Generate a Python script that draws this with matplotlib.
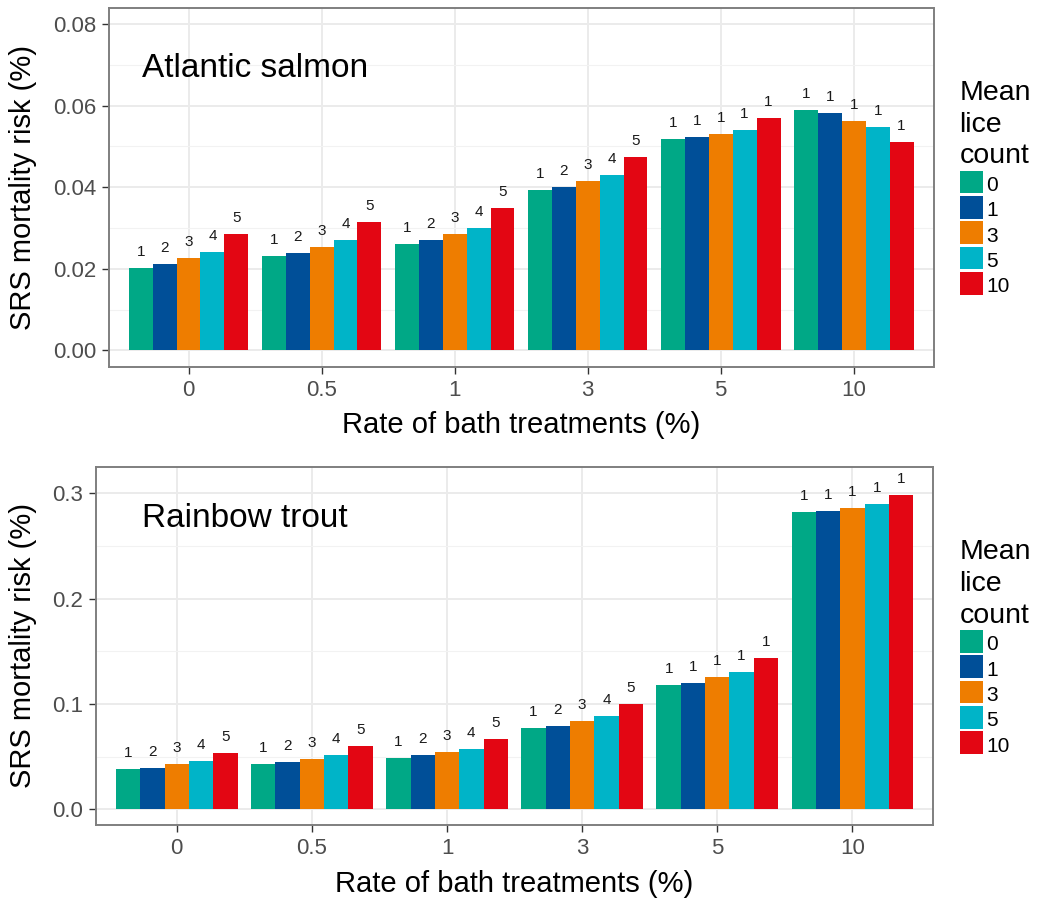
import matplotlib
matplotlib.use("Agg")
import matplotlib.pyplot as plt
from matplotlib.patches import Rectangle
from matplotlib.ticker import FormatStrFormatter, MultipleLocator
import numpy as np

plt.rcParams['font.family'] = ['Liberation Sans', 'DejaVu Sans']

# Categories
treatment_rates = ['0', '0.5', '1', '3', '5', '10']
lice_counts = ['0', '1', '3', '5', '10']
bar_colors = ['#00A886', '#004F98', '#EE7D00', '#00B4C8', '#E30613']

# Atlantic salmon: SRS mortality risk (%) per mean lice count
salmon_lice0 = [0.0203, 0.0232, 0.0261, 0.0392, 0.0517, 0.0588]
salmon_lice1 = [0.0211, 0.0239, 0.0270, 0.0400, 0.0523, 0.0581]
salmon_lice3 = [0.0226, 0.0254, 0.0284, 0.0414, 0.0531, 0.0563]
salmon_lice5 = [0.0241, 0.0270, 0.0301, 0.0431, 0.0541, 0.0548]
salmon_lice10 = [0.0284, 0.0315, 0.0348, 0.0474, 0.0569, 0.0511]

# Rainbow trout: SRS mortality risk (%) per mean lice count
trout_lice0 = [0.0383, 0.0433, 0.0490, 0.0775, 0.1178, 0.2820]
trout_lice1 = [0.0395, 0.0452, 0.0513, 0.0794, 0.1203, 0.2833]
trout_lice3 = [0.0430, 0.0481, 0.0541, 0.0839, 0.1254, 0.2865]
trout_lice5 = [0.0459, 0.0513, 0.0576, 0.0883, 0.1304, 0.2900]
trout_lice10 = [0.0538, 0.0604, 0.0671, 0.1003, 0.1437, 0.2982]

# Rank labels printed above each bar
labels_lice0 = ['1', '1', '1', '1', '1', '1']
labels_lice1 = ['2', '2', '2', '2', '1', '1']
labels_lice3 = ['3', '3', '3', '3', '1', '1']
labels_lice5 = ['4', '4', '4', '4', '1', '1']
labels_lice10 = ['5', '5', '5', '5', '1', '1']

salmon_series = [salmon_lice0, salmon_lice1, salmon_lice3, salmon_lice5, salmon_lice10]
trout_series = [trout_lice0, trout_lice1, trout_lice3, trout_lice5, trout_lice10]
bar_labels = [labels_lice0, labels_lice1, labels_lice3, labels_lice5, labels_lice10]

W, H = 1042, 900
fig = plt.figure(figsize=(W / 100, H / 100), dpi=100)


def px_rect(left, top, right, bottom):
    return [left / W, 1 - bottom / H, (right - left) / W, (bottom - top) / H]


def draw_panel(ax, series, labels, ylim, major, fmt, title, title_pos):
    x = np.arange(len(treatment_rates))
    n = len(series)
    width = 0.9 / n
    for i, (vals, labs) in enumerate(zip(series, labels)):
        pos = x - 0.45 + width * (i + 0.5)
        ax.bar(pos, vals, width=width, color=bar_colors[i], linewidth=0,
               zorder=2, label=lice_counts[i])
        for xx, v, t in zip(pos, vals, labs):
            ax.annotate(t, (xx, v), xytext=(0, 12), textcoords='offset pixels',
                        ha='center', va='baseline', fontsize=11,
                        color='#1A1A1A', zorder=3)
    ax.set_xlim(-0.6, len(treatment_rates) - 0.4)
    ax.set_ylim(*ylim)
    ax.set_xticks(x)
    ax.set_xticklabels(treatment_rates)
    ax.yaxis.set_major_locator(MultipleLocator(major))
    ax.yaxis.set_minor_locator(MultipleLocator(major / 2))
    ax.yaxis.set_major_formatter(FormatStrFormatter(fmt))
    ax.grid(True, which='major', axis='both', color='#EBEBEB', lw=1.4, zorder=0)
    ax.grid(True, which='minor', axis='y', color='#F2F2F2', lw=0.8, zorder=0)
    ax.set_axisbelow(True)
    ax.tick_params(axis='both', which='major', length=5, width=1,
                   color='#333333', labelsize=16, labelcolor='#4D4D4D')
    ax.tick_params(axis='x', pad=4.5)
    ax.tick_params(axis='y', pad=4)
    ax.tick_params(axis='y', which='minor', length=0)
    for s in ax.spines.values():
        s.set_color('#7F7F7F')
        s.set_linewidth(1.4)
    ax.text(title_pos[0], title_pos[1], title, transform=ax.transAxes,
            fontsize=24, ha='left', va='baseline', color='black')


def draw_legend(y_shift):
    for line, base in zip(['Mean', 'lice', 'count'], [100, 131.7, 163.3]):
        fig.text(959.5 / W, 1 - (base + y_shift) / H, line, fontsize=20.5,
                 va='baseline', ha='left')
    for k, (lab, col) in enumerate(zip(lice_counts, bar_colors)):
        top = 170.7 + y_shift + k * 25.3
        r = Rectangle((959.5 / W, 1 - (top + 22.7) / H), 23 / W, 22.7 / H,
                      transform=fig.transFigure, facecolor=col, edgecolor='none')
        fig.add_artist(r)
        fig.text(986.5 / W, 1 - (top + 20.5) / H, lab, fontsize=15,
                 va='baseline', ha='left')


# Atlantic salmon panel
ax1 = fig.add_axes(px_rect(108.7, 8, 933.5, 366.7))
draw_panel(ax1, salmon_series, bar_labels, (-0.00402, 0.08392), 0.02, '%.2f',
           'Atlantic salmon', (0.04, 0.8085))
ax1.set_xlabel('Rate of bath treatments (%)', fontsize=21)
ax1.xaxis.set_label_coords(0.5, -0.1857)
ax1.xaxis.label.set_va('baseline')
ax1.set_ylabel('SRS mortality risk (%)', fontsize=21)
ax1.yaxis.set_label_coords(-(108.7 - 23) / 824.8, 0.5)
ax1.yaxis.label.set_va('center')
draw_legend(0)

# Rainbow trout panel
ax2 = fig.add_axes(px_rect(95.7, 466.7, 933.5, 825.3))
draw_panel(ax2, trout_series, bar_labels, (-0.01519, 0.32525), 0.1, '%.1f',
           'Rainbow trout', (0.0549, 0.831))
ax2.set_xlabel('Rate of bath treatments (%)', fontsize=21)
ax2.xaxis.set_label_coords(0.5, -0.1852)
ax2.xaxis.label.set_va('baseline')
ax2.set_ylabel('SRS mortality risk (%)', fontsize=21)
ax2.yaxis.set_label_coords(-(95.7 - 23) / 837.8, 0.5)
ax2.yaxis.label.set_va('center')
draw_legend(459.3)

fig.savefig('out.png', dpi=100, facecolor='white')
